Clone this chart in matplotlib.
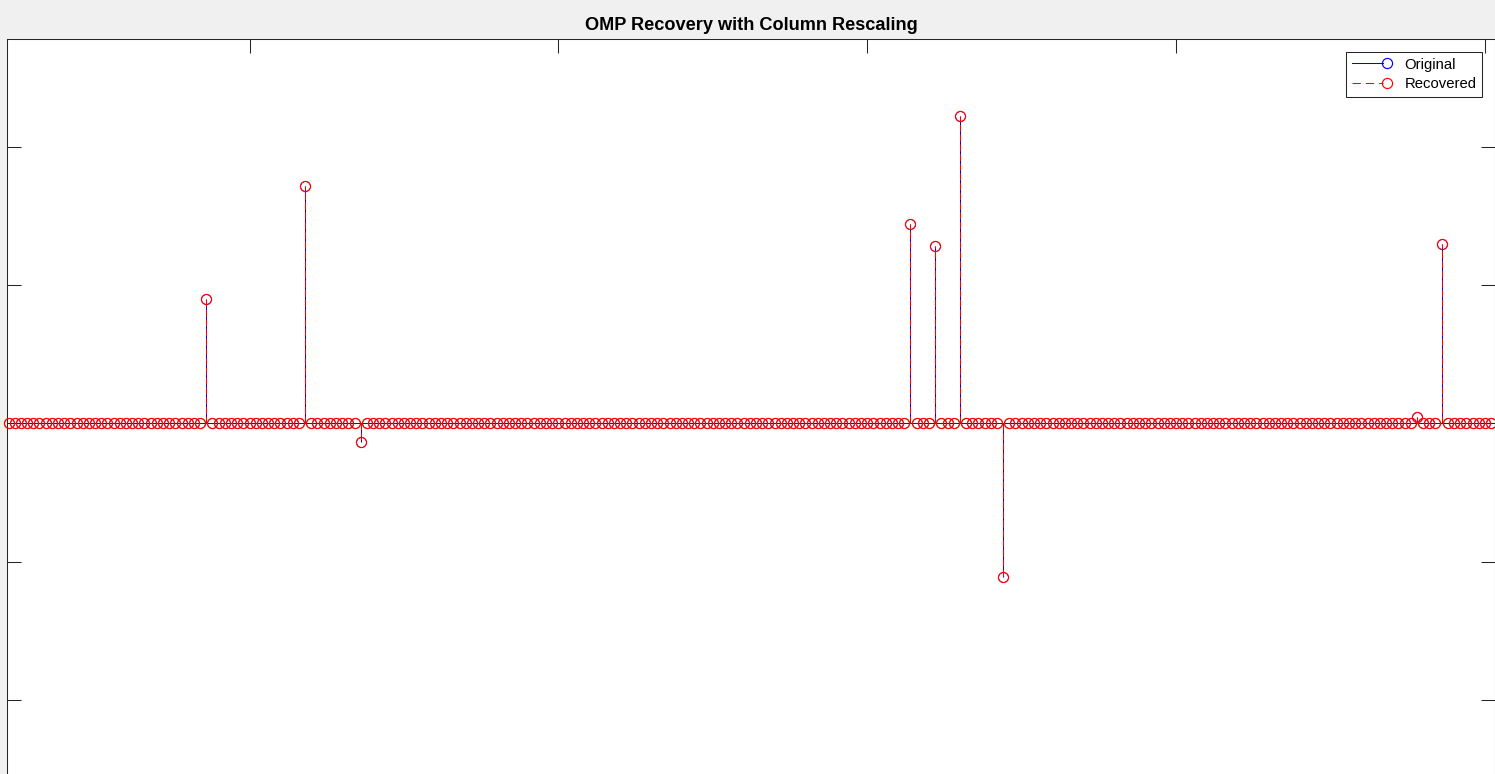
import numpy as np
import matplotlib
matplotlib.use("Agg")
import matplotlib.pyplot as plt
from matplotlib.lines import Line2D
from matplotlib.legend_handler import HandlerBase

plt.rcParams['lines.scale_dashes'] = False
plt.rcParams['font.family'] = ['Liberation Sans', 'DejaVu Sans']

# ---- data ----
x_index = np.arange(11, 252)                       # visible sample indices
support = [43, 59, 68, 157, 161, 165, 172, 239, 243]
original_vals = [0.897, 1.714, -0.133, 1.442, 1.285, 2.223, -1.110, 0.048, 1.297]
recovered_vals = [0.897, 1.714, -0.133, 1.442, 1.285, 2.223, -1.110, 0.048, 1.297]
y_ticks = [-2, -1, 0, 1, 2]
x_ticks = [50, 100, 150, 200, 250]
title_text = "OMP Recovery with Column Rescaling"
legend_labels = ["Original", "Recovered"]

x_orig = np.zeros(len(x_index))
x_rec = np.zeros(len(x_index))
for s, vo, vr in zip(support, original_vals, recovered_vals):
    x_orig[s - x_index[0]] = vo
    x_rec[s - x_index[0]] = vr

W, H, DPI = 1495, 774, 100
fig = plt.figure(figsize=(W / DPI, H / DPI), dpi=DPI, facecolor='#f0f0f0')

# axes placement in pixels
ax_left_px, ax_right_px, ax_top_px = 7.3, 1494.5, 39.3
zero_px, unit_px = 423.3, 138.25
ylim_top = (zero_px - ax_top_px) / unit_px
ylim_bot = -3.5
ax_bot_px = zero_px - ylim_bot * unit_px
ax = fig.add_axes([ax_left_px / W, (H - ax_bot_px) / H,
                   (ax_right_px - ax_left_px) / W, (ax_bot_px - ax_top_px) / H])
ax.set_facecolor('white')

px_per_x = 6.177
ax.set_xlim(x_index[0] - (8.6 - ax_left_px) / px_per_x,
            x_index[0] + (ax_right_px - 8.6) / px_per_x)
ax.set_ylim(ylim_bot, ylim_top)

lw = 0.75
ms = 7.3
stem_dash = (0, (5.0, 2.0))
leg_dash = (6.0, 3.6)

# Original stems (blue solid)
m1, s1, b1 = ax.stem(x_index, x_orig, linefmt='b-', markerfmt='bo', basefmt=' ')
s1.set_linewidth(lw); s1.set_color('#0000ff'); s1.set_zorder(2)
m1.set_markerfacecolor('none'); m1.set_markeredgecolor('#0000ff')
m1.set_markersize(ms - 0.3); m1.set_markeredgewidth(0.45); m1.set_clip_on(False); m1.set_zorder(3)
b1.set_visible(False)

# Recovered stems (red dashed)
m2, s2, b2 = ax.stem(x_index, x_rec, linefmt='r--', markerfmt='ro', basefmt=' ')
s2.set_linewidth(lw); s2.set_color('#ff0000'); s2.set_linestyle(stem_dash); s2.set_zorder(4)
m2.set_markerfacecolor('none'); m2.set_markeredgecolor('#ff0000')
m2.set_markersize(ms); m2.set_markeredgewidth(0.85); m2.set_clip_on(False); m2.set_zorder(5)
b2.set_visible(False)

# baseline across whole axes
ax.axhline(0, color='#262626', lw=lw, zorder=2.5)

ax.set_xticks(x_ticks)
ax.set_yticks(y_ticks)
ax.tick_params(direction='in', length=10, width=lw, colors='#262626',
               top=True, right=True, bottom=True, left=True,
               labelbottom=False, labelleft=False)
for sp in ax.spines.values():
    sp.set_linewidth(lw)
    sp.set_color('#262626')


class StemHandler(HandlerBase):
    def create_artists(self, legend, orig, xdescent, ydescent, width, height,
                       fontsize, trans):
        y = height / 2 - ydescent
        line = Line2D([-xdescent, width - xdescent - 3], [y, y],
                      color=orig.get_color(), linestyle=orig.get_linestyle(),
                      lw=lw)
        if orig.get_linestyle() == '--':
            line.set_dashes(leg_dash)
        mk = Line2D([width - xdescent], [y], marker='o', markersize=ms,
                    markerfacecolor='none', markeredgecolor=orig.get_color(),
                    markeredgewidth=0.85, linestyle='none')
        for a in (line, mk):
            a.set_transform(trans)
        return [line, mk]


h1 = Line2D([], [], color='#0000ff', linestyle='-')
h2 = Line2D([], [], color='#ff0000', linestyle='--')
leg = ax.legend([h1, h2], legend_labels, loc='upper right',
                bbox_to_anchor=(1482 / W, 1 - 52 / H), bbox_transform=fig.transFigure,
                borderaxespad=0, fontsize=10.7, handlelength=2.4, handletextpad=1.15,
                labelspacing=0.38, borderpad=0.38, fancybox=False, framealpha=1,
                handler_map={h1: StemHandler(), h2: StemHandler()})
leg.get_frame().set_edgecolor('#262626')
leg.get_frame().set_linewidth(lw)

fig.text(751 / W, 1 - 25.0 / H, title_text, ha='center', va='center',
         fontsize=13.1, fontweight='bold', color='black')

fig.savefig('out.png', dpi=DPI, facecolor=fig.get_facecolor())
